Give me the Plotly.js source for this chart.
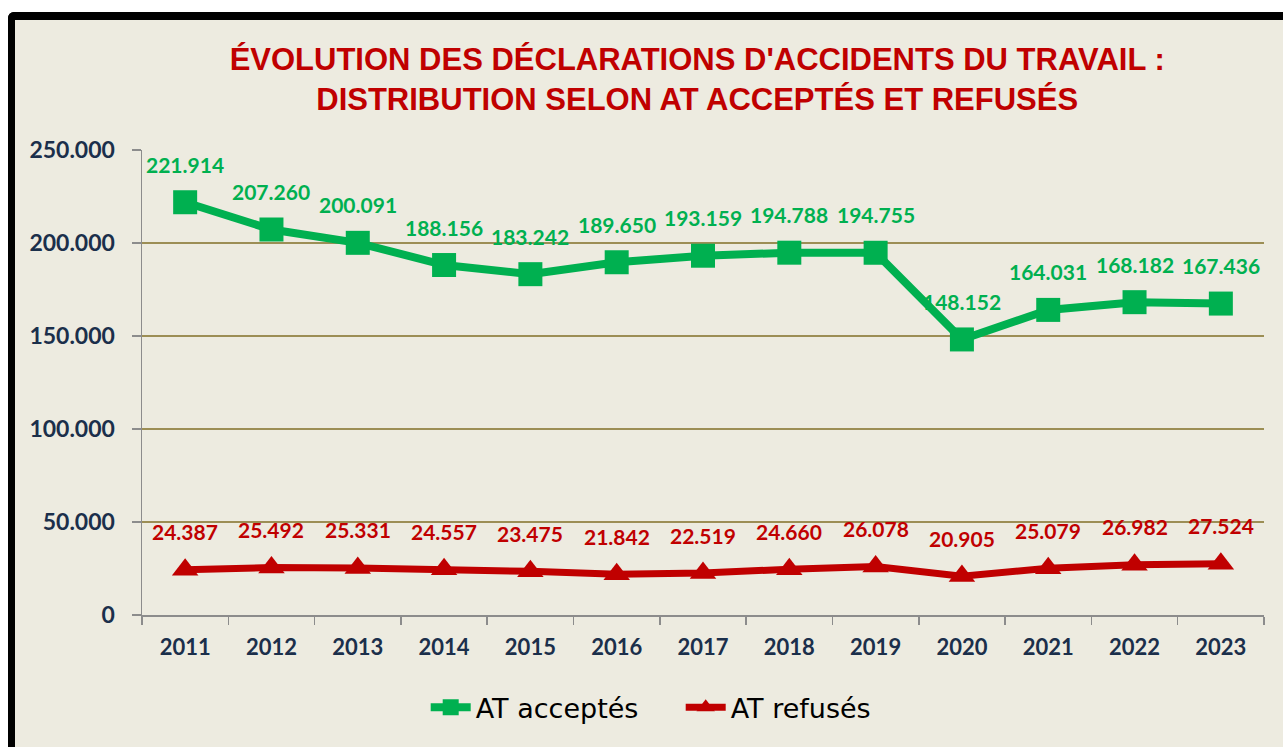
<!DOCTYPE html>
<html>
<head>
<meta charset="utf-8">
<script src="https://cdn.plot.ly/plotly-3.0.1.min.js"></script>
<style>
  html, body { margin: 0; padding: 0; background: #ffffff; width: 1283px; height: 747px; overflow: hidden; }
  #frame { position: absolute; left: 8px; top: 12px; width: 1275px; height: 735px;
           border-left: 7px solid #000; border-top: 8px solid #000; border-top-left-radius: 6px;
           background: #EDEBE0; box-sizing: border-box; overflow: hidden; }
  #chart { position: absolute; left: 0; top: 0; width: 1268px; height: 727px; }
</style>
</head>
<body>
<div id="frame"><div id="chart"></div></div>
<script>
const years = ['2011','2012','2013','2014','2015','2016','2017','2018','2019','2020','2021','2022','2023'];
const accepted = [221914, 207260, 200091, 188156, 183242, 189650, 193159, 194788, 194755, 148152, 164031, 168182, 167436];
const refused = [24387, 25492, 25331, 24557, 23475, 21842, 22519, 24660, 26078, 20905, 25079, 26982, 27524];
const seriesNames = ['AT acceptés', 'AT refusés'];
const titleLines = ["ÉVOLUTION DES DÉCLARATIONS D'ACCIDENTS DU TRAVAIL :", "DISTRIBUTION SELON AT ACCEPTÉS ET REFUSÉS"];

const GREEN = '#00B050', RED = '#C00000', NAVY = '#1B2F4B';
function fmt(v) { return String(v).replace(/\B(?=(\d{3})+(?!\d))/g, '.'); }

const traces = [
  { type: 'scatter', mode: 'lines+markers', name: seriesNames[0], x: years, y: accepted,
    line: { color: GREEN, width: 8 }, marker: { symbol: 'square', size: 24, color: GREEN }, hoverinfo: 'skip' },
  { type: 'scatter', mode: 'lines+markers', name: seriesNames[1], x: years, y: refused,
    line: { color: RED, width: 7 }, marker: { symbol: 'triangle-up', size: 23, color: RED }, hoverinfo: 'skip' }
];

const annotations = [];
years.forEach((yr, i) => {
  annotations.push({ x: i, y: accepted[i], xref: 'x', yref: 'y', text: fmt(accepted[i]), showarrow: false,
    yshift: 38, font: { family: 'Lato', size: 21, color: GREEN, weight: 'bold' } });
  annotations.push({ x: i, y: refused[i], xref: 'x', yref: 'y', text: fmt(refused[i]), showarrow: false,
    yshift: 38, font: { family: 'Lato', size: 21, color: RED, weight: 'bold' } });
});

const layout = {
  width: 1268, height: 727,
  paper_bgcolor: '#EDEBE0', plot_bgcolor: '#EDEBE0',
  margin: { l: 127, r: 19, t: 130, b: 132 },
  separators: ',.',
  title: { text: titleLines.join('<br>'), xref: 'container', x: 0.538, xanchor: 'center',
           yref: 'container', y: 0.931, yanchor: 'top',
           font: { family: 'Liberation Sans', size: 31, color: RED, weight: 'bold' } },
  xaxis: { type: 'category', categoryorder: 'array', categoryarray: years, range: [-0.5, 12.5],
           showgrid: false, showline: true, linecolor: '#8C8C8C', linewidth: 1.5,
           ticks: 'outside', tickson: 'boundaries', ticklen: 8, tickcolor: '#8C8C8C', tickwidth: 1.5,
           ticklabelstandoff: 12, tickangle: 0,
           tickfont: { family: 'Lato', size: 22, color: NAVY, weight: 'bold' }, zeroline: false },
  yaxis: { range: [0, 250000], dtick: 50000, tickformat: ',d', showgrid: true, gridcolor: '#9C8E55', gridwidth: 1.5,
           showline: true, linecolor: '#8C8C8C', linewidth: 1.5, ticks: 'outside', ticklen: 9,
           tickcolor: '#8C8C8C', tickwidth: 1.5, zeroline: false, ticklabelstandoff: 12,
           tickfont: { family: 'Lato', size: 23, color: NAVY, weight: 'bold' } },
  showlegend: true,
  legend: { orientation: 'h', xref: 'container', x: 0.525, xanchor: 'center', yref: 'container', y: 0.054, yanchor: 'middle',
            font: { family: 'DejaVu Sans', size: 27, color: '#000' }, bgcolor: 'rgba(0,0,0,0)', itemwidth: 40,
            entrywidth: 200 },
  annotations: annotations
};

Plotly.newPlot('chart', traces, layout, { displayModeBar: false, staticPlot: true });
</script>
</body>
</html>
